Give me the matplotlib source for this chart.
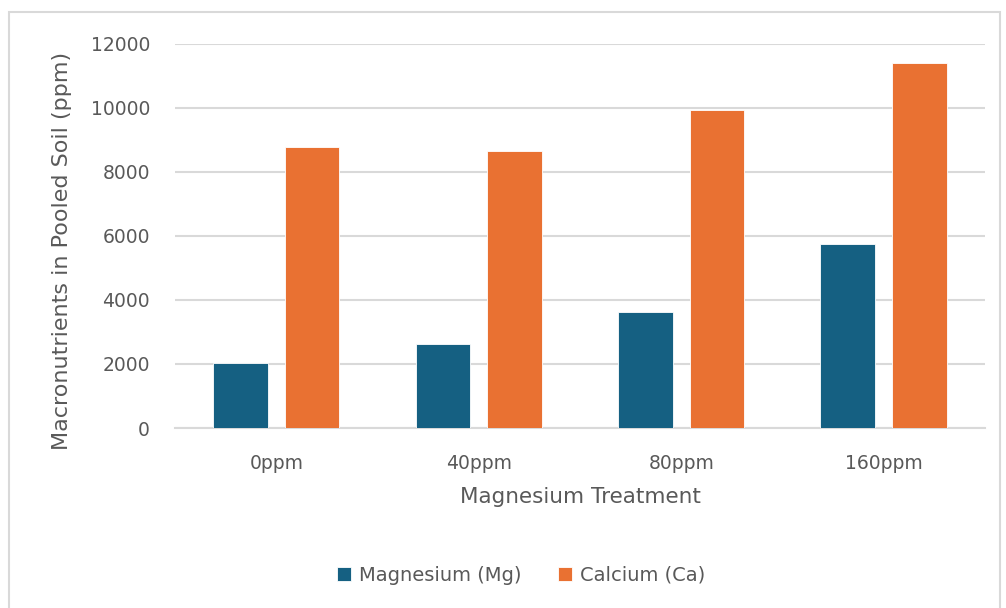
import numpy as np
import matplotlib.pyplot as plt
from matplotlib.patches import Rectangle

# data
treatments = ["0ppm", "40ppm", "80ppm", "160ppm"]
magnesium = [2030, 2635, 3630, 5740]
calcium = [8775, 8655, 9920, 11390]

plt.rcParams['font.family'] = ['DejaVu Sans']
txt_color = '#595959'

fig = plt.figure(figsize=(10.06, 6.08), dpi=100)
ax = fig.add_axes([0.174, 0.296, 0.805, 0.632])

x = np.arange(len(treatments))
w = 0.27
off = 0.177
ax.bar(x - off, magnesium, w, color='#156082', edgecolor='white', linewidth=0.6,
       label='Magnesium (Mg)', zorder=3)
ax.bar(x + off, calcium, w, color='#E97132', edgecolor='white', linewidth=0.6,
       label='Calcium (Ca)', zorder=3)

ax.set_xlim(-0.5, len(treatments) - 0.5)
ax.set_ylim(0, 12000)
ax.set_yticks(np.arange(0, 12001, 2000))
ax.set_xticks(x)
ax.set_xticklabels(treatments)
ax.grid(axis='y', color='#d9d9d9', linewidth=1.5, zorder=0)
ax.tick_params(length=0, labelsize=13.5, colors=txt_color)
ax.tick_params(axis='y', pad=18)
ax.tick_params(axis='x', pad=19)
for s in ['top', 'right', 'left']:
    ax.spines[s].set_visible(False)
ax.spines['bottom'].set_color('#d9d9d9')
ax.spines['bottom'].set_linewidth(1.5)

ax.set_ylabel("Macronutrients in Pooled Soil (ppm)", fontsize=16, color=txt_color)
ax.yaxis.set_label_coords(-0.127, 0.46)
ax.set_xlabel("Magnesium Treatment", fontsize=15.5, color=txt_color, labelpad=10)

leg = fig.legend(loc='center', bbox_to_anchor=(0.518, 0.054), ncol=2, frameon=False,
                 fontsize=14, handlelength=0.7, handleheight=0.7, columnspacing=1.9,
                 handletextpad=0.4)
for t in leg.get_texts():
    t.set_color(txt_color)

# outer chart border
fig.patches.append(Rectangle((0.009, -0.01), 0.985, 0.99, transform=fig.transFigure,
                             fill=False, edgecolor='#d9d9d9', linewidth=1.5))

fig.savefig('out.png', dpi=100)
